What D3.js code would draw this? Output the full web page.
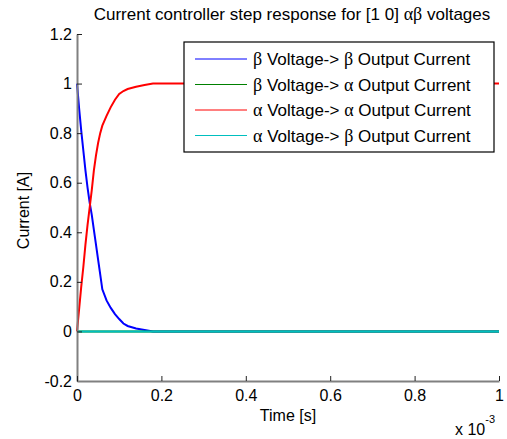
<!doctype html>
<html lang="en">
<head>
<meta charset="UTF-8">
<script src="https://cdnjs.cloudflare.com/ajax/libs/d3/7.8.5/d3.min.js"></script>
<title>Step response</title>
<style>
  body { margin: 0; background: #fff; }
  text { font-family: "Liberation Sans", Arial, sans-serif; fill: #000; }
  .greek { font-family: "Liberation Serif", "DejaVu Serif", serif; }
</style>
</head>
<body>
<div id="viz_area"></div>
<script>
    // time in units of 1e-3 s
    const timeMs = [0, 0.005, 0.010, 0.015, 0.020, 0.025, 0.030, 0.035, 0.040, 0.045, 0.050,
        0.055, 0.060, 0.070, 0.080, 0.090, 0.100, 0.110, 0.120, 0.140, 0.160, 0.180, 1.0];
    const betaToBeta = [1.0, 0.90, 0.81, 0.73, 0.65, 0.58, 0.52, 0.47, 0.41, 0.35, 0.29,
        0.23, 0.17, 0.125, 0.095, 0.07, 0.05, 0.032, 0.022, 0.012, 0.006, 0.0, 0.0];
    const betaToAlpha = [0, 0, 0, 0, 0, 0, 0, 0, 0, 0, 0, 0, 0, 0, 0, 0, 0, 0, 0, 0, 0, 0, 0];
    const alphaToAlpha = [0, 0.09, 0.18, 0.26, 0.35, 0.43, 0.50, 0.57, 0.65, 0.71, 0.76,
        0.80, 0.83, 0.87, 0.905, 0.935, 0.958, 0.97, 0.978, 0.987, 0.994, 1.0, 1.0];
    const alphaToBeta = [0, 0, 0, 0, 0, 0, 0, 0, 0, 0, 0, 0, 0, 0, 0, 0, 0, 0, 0, 0, 0, 0, 0];

    const xTicks = [0, 0.2, 0.4, 0.6, 0.8, 1];
    const yTicks = [-0.2, 0, 0.2, 0.4, 0.6, 0.8, 1, 1.2];

    const seriesNames = [
        ["β", " Voltage-> ", "β", " Output Current"],
        ["β", " Voltage-> ", "α", " Output Current"],
        ["α", " Voltage-> ", "α", " Output Current"],
        ["α", " Voltage-> ", "β", " Output Current"]
    ];
    const seriesValues = [betaToBeta, betaToAlpha, alphaToAlpha, alphaToBeta];
    const colors = ["#0000ff", "#008000", "#ff0000", "#00bfbf"];

    const W = 507, H = 439;
    const margin = {top: 34, right: 8, bottom: 58, left: 77};
    const width = W - margin.left - margin.right,
        height = H - margin.top - margin.bottom;

    const svg = d3.select("#viz_area").append("svg")
        .attr("width", W).attr("height", H);
    const g = svg.append("g")
        .attr("transform", `translate(${margin.left},${margin.top})`);

    const x = d3.scaleLinear().domain([0, 1]).range([0, width]);
    const y = d3.scaleLinear().domain([-0.2, 1.2]).range([height, 0]);

    // curves
    const line = d3.line().x(d => x(d[0])).y(d => y(d[1]));
    seriesValues.forEach((vals, i) => {
        g.append("path")
            .datum(timeMs.map((t, k) => [t, vals[k]]))
            .attr("d", line)
            .attr("fill", "none")
            .attr("stroke", colors[i])
            .attr("stroke-width", 2);
    });

    // axes
    const fmt = d => String(+d.toFixed(1));
    const yAxis = g.append("g")
        .call(d3.axisLeft(y).tickValues(yTicks).tickFormat(fmt).tickSize(-5).tickPadding(5).tickSizeOuter(0));
    const xAxis = g.append("g").attr("transform", `translate(0,${height})`)
        .call(d3.axisBottom(x).tickValues(xTicks).tickFormat(fmt).tickSize(-5).tickPadding(9).tickSizeOuter(0));
    [yAxis, xAxis].forEach(a => {
        a.select(".domain").attr("stroke", "#808080").attr("stroke-width", 2);
        a.selectAll(".tick line").attr("stroke", "#222");
        a.selectAll("text").attr("font-size", 16).attr("fill", "#000")
            .style("font-family", '"Liberation Sans", Arial, sans-serif');
    });

    // title
    const title = svg.append("text")
        .attr("x", 292).attr("y", 20)
        .attr("text-anchor", "middle").attr("font-size", 17);
    title.append("tspan").text("Current controller step response for [1 0] ");
    title.append("tspan").attr("class", "greek").attr("font-size", 18).text("αβ");
    title.append("tspan").text(" voltages");

    // axis labels
    svg.append("text").attr("x", margin.left + width / 2).attr("y", 421)
        .attr("text-anchor", "middle").attr("font-size", 16).text("Time [s]");
    svg.append("text")
        .attr("transform", `translate(29,${margin.top + height / 2 + 3}) rotate(-90)`)
        .attr("text-anchor", "middle").attr("font-size", 16).text("Current [A]");
    const mult = svg.append("text").attr("x", 455).attr("y", 435).attr("font-size", 16);
    mult.append("tspan").text("x 10");
    mult.append("tspan").attr("dy", -12).attr("font-size", 11).text("-3");

    // legend
    const lg = svg.append("g").attr("transform", "translate(184,42)");
    lg.append("rect").attr("width", 310).attr("height", 110)
        .attr("fill", "#fff").attr("stroke", "#000").attr("stroke-width", 1.2);
    seriesNames.forEach((parts, i) => {
        const yy = 17 + i * 25.5;
        lg.append("line").attr("x1", 11).attr("x2", 63).attr("y1", yy).attr("y2", yy)
            .attr("stroke", colors[i]).attr("stroke-width", 1);
        const t = lg.append("text").attr("x", 69).attr("y", yy + 6).attr("font-size", 17);
        parts.forEach((p, j) => {
            const s = t.append("tspan").text(p);
            if (j % 2 === 0) s.attr("class", "greek").attr("font-size", 18);
        });
    });
</script>
</body>
</html>
